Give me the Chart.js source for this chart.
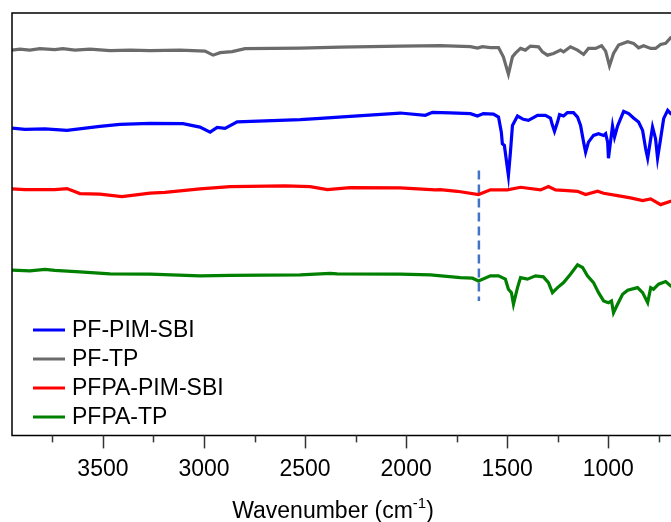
<!DOCTYPE html>
<html>
<head>
<meta charset="utf-8">
<script src="https://cdn.jsdelivr.net/npm/chart.js@4"></script>
<style>
  html, body { margin: 0; padding: 0; background: #fff; overflow: hidden; }
</style>
</head>
<body>
<canvas id="ftir" width="700" height="522"></canvas>
<script>
// wavenumbers (cm-1) and offset intensities (a.u.)
const wnBlue = [3950,3886,3787,3678,3515,3416,3267,3104,3020,2970,2935,2896,2836,2524,2425,2277,2029,1905,1870,1781,1682,1647,1618,1568,1543,1529,1524,1514,1494,1484,1474,1449,1420,1395,1350,1311,1286,1276,1266,1251,1241,1221,1202,1172,1152,1137,1122,1112,1098,1073,1048,1023,1013,1003,999,989,979,969,954,924,899,875,850,830,815,805,790,781,766,756,741,726,706,691,662];
const tBlue = [306.3,305,305.5,304,308,310,311,310.7,307.3,302.3,307,306,312.5,314.7,316,318,321.3,319,322,321.5,320.7,318.3,320.7,320.3,317.3,302.3,290.7,289,259,282.3,309,318.3,315,314,319,319,316.3,309,303,312.3,319.7,318.3,321.7,321.7,317.3,309,292.3,282.3,292.3,299,300.7,299,300.7,292.3,276.3,292.3,308.3,297.3,308.3,323,320.7,316.3,312.3,304,285.7,276.3,295.7,307.3,295.7,276.3,295.7,315.7,324,320.7,318];

const wnGray = [3950,3911,3862,3812,3738,3698,3639,3564,3465,3366,3267,3119,2995,2955,2920,2861,2797,2524,2326,2029,1831,1682,1647,1623,1583,1543,1519,1494,1474,1459,1434,1410,1385,1345,1326,1301,1271,1236,1221,1187,1152,1122,1098,1063,1033,1013,994,974,949,904,875,850,825,790,766,741,716,691,662];
const tGray = [384,385,384,385.5,384.5,385.5,384,385,383.5,384,383.5,384,383,379,381.5,382.5,385.5,386,387,388,388.5,387.5,386,387.5,386.5,386.5,377.3,360,377.3,381,385.7,384,388,387.3,382.3,379,380.7,384,382.3,387.3,384,379.7,385.7,385.7,388.3,383,368.3,380.7,389,392.3,390.7,386.3,388.3,385.7,385.7,389.7,390.7,396.3,398];

const wnRed = [3950,3886,3738,3678,3614,3515,3406,3267,3193,3020,2871,2598,2475,2390,2277,2029,1856,1831,1747,1642,1583,1499,1434,1335,1296,1261,1202,1152,1112,1053,1023,954,890,830,790,741,691,662];
const tRed = [245.7,245,245,246,241,240.5,238,241.5,242.3,245.7,248,248.7,248,245,247,246.7,244.7,245,243.3,240,244.7,244.7,247.3,244.7,248,244.7,244,243.3,240,243.3,241.3,239,236.7,234,235.7,230,233.3,235];

const wnGreen = [3950,3862,3787,3738,3614,3465,3267,3020,2871,2524,2376,2341,2029,1880,1732,1672,1642,1583,1543,1509,1494,1479,1469,1449,1434,1400,1360,1321,1296,1276,1251,1221,1187,1152,1127,1103,1073,1048,1023,999,984,974,954,929,904,855,830,805,790,776,751,716,691,662];
const tGreen = [164.7,164,165.5,164.5,163,161,160.7,159,159.5,160,161.5,161,160.7,160,157.3,156.7,154,159,159,155.7,145.7,142.3,130.7,147.3,157.3,155.7,159,158,152.3,142.3,147.3,152.3,160.7,170,167.3,159,152.3,142.3,134,132.3,134,122.3,130.7,140.7,144.7,147.3,142.3,132.3,147.3,145.7,150.7,153.3,149,151];

const seriesNames = ['PF-PIM-SBI', 'PF-TP', 'PFPA-PIM-SBI', 'PFPA-TP'];
const majorTicks = [3500, 3000, 2500, 2000, 1500, 1000];
const minorTicks = [3750, 3250, 2750, 2250, 1750, 1250, 750];
const markerWn = 1640;
const markerRange = [264, 134];

const FONT = '"Liberation Sans", Arial, sans-serif';

const pts = (xs, ys) => xs.map((x, i) => ({ x: x, y: ys[i] }));

const line = (label, xs, ys, color) => ({
  label: label,
  data: pts(xs, ys),
  borderColor: color,
  borderWidth: 3.2,
  pointRadius: 0,
  tension: 0,
  fill: false
});

// frame, ticks, axis title and legend drawn by hand
const framePlugin = {
  id: 'frame',
  afterDatasetsDraw(chart) {
    const c = chart.ctx;
    const a = chart.chartArea;
    const xs = chart.scales.x;
    c.save();
    c.strokeStyle = '#000';
    c.lineWidth = 1.5;
    c.beginPath();
    c.moveTo(a.right + 5, a.top);
    c.lineTo(a.left, a.top);
    c.lineTo(a.left, a.bottom);
    c.lineTo(a.right + 5, a.bottom);
    c.stroke();

    c.strokeStyle = '#333';
    c.lineWidth = 1.5;
    majorTicks.forEach(v => {
      const px = Math.round(xs.getPixelForValue(v)) + 0.5;
      c.beginPath(); c.moveTo(px, a.bottom); c.lineTo(px, a.bottom + 13); c.stroke();
    });
    minorTicks.forEach(v => {
      const px = Math.round(xs.getPixelForValue(v)) + 0.5;
      c.beginPath(); c.moveTo(px, a.bottom); c.lineTo(px, a.bottom + 7); c.stroke();
    });

    // axis title with superscript
    c.fillStyle = '#000';
    c.textBaseline = 'alphabetic';
    const main = 'Wavenumber (cm';
    const sup = '-1';
    const end = ')';
    c.font = '23px ' + FONT;
    const w1 = c.measureText(main).width;
    const w3 = c.measureText(end).width;
    c.font = '15px ' + FONT;
    const w2 = c.measureText(sup).width;
    let x0 = 333 - (w1 + w2 + w3) / 2;
    const base = 518;
    c.font = '23px ' + FONT;
    c.textAlign = 'left';
    c.fillText(main, x0, base);
    c.font = '15px ' + FONT;
    c.fillText(sup, x0 + w1, base - 10);
    c.font = '23px ' + FONT;
    c.fillText(end, x0 + w1 + w2, base);

    // legend in the lower left of the plot
    c.textBaseline = 'middle';
    seriesNames.forEach((name, i) => {
      const ds = chart.data.datasets[i];
      const y = a.top + 317 + i * 29;
      c.strokeStyle = ds.borderColor;
      c.lineWidth = 3;
      c.beginPath(); c.moveTo(a.left + 21, y); c.lineTo(a.left + 53, y); c.stroke();
      c.fillStyle = '#000';
      c.font = '23px ' + FONT;
      c.fillText(name, a.left + 60, y + 1);
    });
    c.restore();
  }
};

const canvas = document.getElementById('ftir');

new Chart(canvas, {
  type: 'line',
  data: {
    datasets: [
      line(seriesNames[0], wnBlue, tBlue, '#0000ff'),
      line(seriesNames[1], wnGray, tGray, '#6b6b6b'),
      line(seriesNames[2], wnRed, tRed, '#ff0000'),
      line(seriesNames[3], wnGreen, tGreen, '#008000'),
      {
        label: 'marker',
        data: [{ x: markerWn, y: markerRange[0] }, { x: markerWn, y: markerRange[1] }],
        borderColor: '#4472c4',
        borderWidth: 2.5,
        borderDash: [9, 5],
        pointRadius: 0
      }
    ]
  },
  options: {
    responsive: false,
    animation: false,
    layout: { padding: { left: 12, top: 13, right: 21, bottom: 19 } },
    plugins: {
      legend: { display: false },
      tooltip: { enabled: false }
    },
    scales: {
      x: {
        type: 'linear',
        reverse: true,
        min: 650,
        max: 3950,
        afterBuildTicks: s => { s.ticks = majorTicks.map(v => ({ value: v })); },
        grid: { display: false, drawTicks: false },
        border: { display: false },
        ticks: {
          color: '#000',
          font: { size: 23, family: FONT },
          padding: 20,
          maxRotation: 0,
          autoSkip: false,
          callback: v => String(v)
        }
      },
      y: { display: false, min: 0, max: 421 }
    }
  },
  plugins: [framePlugin]
});
</script>
</body>
</html>
